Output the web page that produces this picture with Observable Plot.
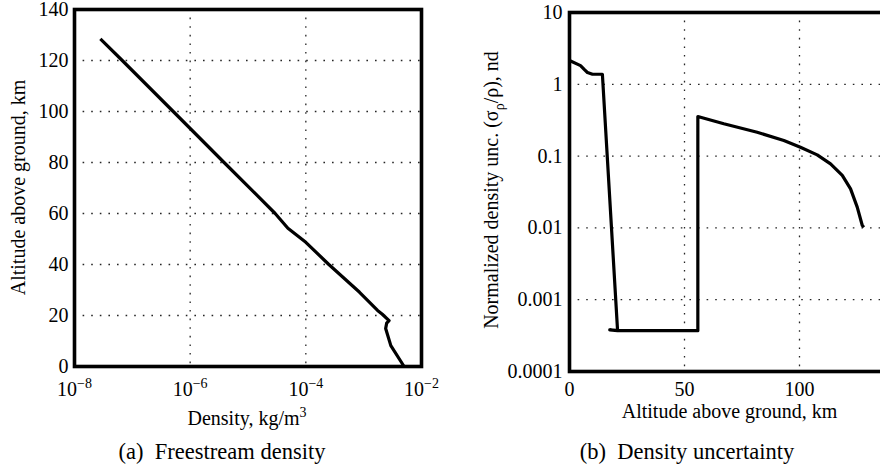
<!DOCTYPE html>
<html>
<head>
<meta charset="utf-8">
<script src="https://cdn.jsdelivr.net/npm/d3@7"></script>
<script src="https://cdn.jsdelivr.net/npm/@observablehq/plot@0.6"></script>
<style>
  html, body { margin: 0; padding: 0; background: #fff; overflow: hidden; }
  #wrap { position: relative; width: 880px; height: 475px; overflow: hidden; background: #fff; }
  .panel { position: absolute; top: 0; }
  .cap { position: absolute; font-family: "Liberation Serif", "Times New Roman", Times, "DejaVu Serif", serif; font-size: 22.5px; line-height: 22px; color: #000; white-space: pre; transform: translateX(-50%); }
</style>
</head>
<body>
<div id="wrap">
  <div id="pa" class="panel" style="left:0px;width:440px"></div>
  <div id="pb" class="panel" style="left:440px;width:480px"></div>
  <div class="cap" style="left:222px;top:441px">(a)  Freestream density</div>
  <div class="cap" style="left:687px;top:441px">(b)  Density uncertainty</div>
</div>
<script>
// ---- Data: (a) freestream density vs altitude ----
const densityAlt = [128.5, 120, 100, 80, 60, 54.2, 48.7, 40, 29.1, 22, 20.5, 18, 17, 14.9, 8.2, 0];
const densityVal = [2.8e-8, 6.7e-8, 5.1e-7, 3.86e-6, 2.95e-5, 4.9e-5, 1.0e-4, 2.5e-4, 8.5e-4, 1.74e-3, 2.1e-3, 2.75e-3, 2.5e-3, 2.4e-3, 2.95e-3, 5.0e-3];

// ---- Data: (b) normalized density uncertainty vs altitude ----
const uncAlt = [0, 4.8, 6.5, 7.8, 10, 14.3, 20.9, 17.5, 21.5, 55.8, 55.8, 67.1, 81.6, 93.2, 100.4, 107.7, 113.5, 118.6, 122.2, 125.1, 127.3, 128];
const uncVal = [2.14, 1.82, 1.6, 1.46, 1.38, 1.38, 3.7e-4, 3.8e-4, 3.7e-4, 3.7e-4, 0.356, 0.282, 0.215, 0.165, 0.133, 0.104, 0.078, 0.054, 0.035, 0.0195, 0.0108, 0.0102];

// ---- Ticks ----
const aXTicks = [1e-8, 1e-6, 1e-4, 1e-2];
const aXExp = ["\u22128", "\u22126", "\u22124", "\u22122"];
const aYTicks = [0, 20, 40, 60, 80, 100, 120, 140];
const bXTicks = [0, 50, 100];
const bYTicks = [1e-4, 1e-3, 1e-2, 1e-1, 1, 10];
const bYLabels = ["0.0001", "0.001", "0.01", "0.1", "1", "10"];

const FONT = '"Liberation Serif", "Times New Roman", Times, "DejaVu Serif", serif';
const gridStyle = {stroke: "#000", strokeOpacity: 0.85, strokeWidth: 1.3, strokeDasharray: "1.6,7"};

const dataA = densityAlt.map((a, i) => ({alt: a, rho: densityVal[i]}));
const dataB = uncAlt.map((a, i) => ({alt: a, u: uncVal[i]}));

const plotA = Plot.plot({
  width: 440, height: 430,
  marginLeft: 74, marginRight: 19, marginTop: 9, marginBottom: 64,
  style: {fontFamily: FONT, fontSize: "20px", color: "#000", background: "#fff", maxWidth: "none", overflow: "visible"},
  x: {type: "log", domain: [1e-8, 1e-2]},
  y: {domain: [0, 140]},
  marks: [
    Plot.gridX([1e-6, 1e-4], gridStyle),
    Plot.gridY([20, 40, 60, 80, 100, 120], gridStyle),
    Plot.axisX({ticks: aXTicks, tickSize: 0, tickPadding: 15, label: null,
      tickFormat: d => "10^" + aXExp[aXTicks.indexOf(d)]}),
    Plot.axisY({ticks: aYTicks, tickSize: 0, tickPadding: 6, label: null, tickFormat: d => String(d)}),
    Plot.line(dataA, {x: "rho", y: "alt", stroke: "#000", strokeWidth: 3.2, strokeLinejoin: "round", strokeLinecap: "butt"}),
    Plot.frame({stroke: "#000", strokeWidth: 3.6})
  ]
});

const plotB = Plot.plot({
  width: 480, height: 430,
  marginLeft: 129, marginRight: 29, marginTop: 12, marginBottom: 59,
  style: {fontFamily: FONT, fontSize: "20px", color: "#000", background: "#fff", maxWidth: "none", overflow: "visible"},
  x: {domain: [0, 140]},
  y: {type: "log", domain: [1e-4, 10]},
  marks: [
    Plot.gridX([50, 100], gridStyle),
    Plot.gridY([1e-3, 1e-2, 1e-1, 1], gridStyle),
    Plot.axisX({ticks: bXTicks, tickSize: 0, tickPadding: 10, label: null, tickFormat: d => String(d)}),
    Plot.axisY({ticks: bYTicks, tickSize: 0, tickPadding: 7, label: null,
      tickFormat: d => bYLabels[bYTicks.indexOf(d)]}),
    Plot.line(dataB, {x: "alt", y: "u", stroke: "#000", strokeWidth: 3.2, strokeLinejoin: "round", strokeLinecap: "butt"}),
    Plot.frame({stroke: "#000", strokeWidth: 3.6})
  ]
});

document.getElementById("pa").appendChild(plotA);
document.getElementById("pb").appendChild(plotB);

// Superscript exponents on log tick labels
for (const svg of [plotA, plotB]) {
  svg.querySelectorAll("text").forEach(t => {
    const s = t.textContent;
    if (s.includes("^")) {
      const [base, exp] = s.split("^");
      while (t.firstChild) t.removeChild(t.firstChild);
      const ns = "http://www.w3.org/2000/svg";
      const b = document.createElementNS(ns, "tspan");
      b.textContent = base;
      const e = document.createElementNS(ns, "tspan");
      e.textContent = exp;
      e.setAttribute("dy", "-0.55em");
      e.setAttribute("font-size", "14px");
      t.appendChild(b); t.appendChild(e);
    }
  });
}

// Axis titles (with super/subscripts)
const sa = d3.select(plotA);
const xa = sa.append("text").attr("x", 247).attr("y", 425).attr("text-anchor", "middle")
  .style("font-family", FONT).attr("font-size", 20).attr("fill", "#000");
xa.append("tspan").text("Density, kg/m");
xa.append("tspan").attr("dy", "-0.55em").attr("font-size", 14).text("3");

sa.append("text").attr("transform", "translate(25,187.5) rotate(-90)").attr("text-anchor", "middle")
  .style("font-family", FONT).attr("font-size", 20).attr("fill", "#000")
  .text("Altitude above ground, km");

const sb = d3.select(plotB);
sb.append("text").attr("x", 289.5).attr("y", 418).attr("text-anchor", "middle")
  .style("font-family", FONT).attr("font-size", 20).attr("fill", "#000")
  .text("Altitude above ground, km");

const yb = sb.append("text").attr("transform", "translate(58,190) rotate(-90)").attr("text-anchor", "middle")
  .style("font-family", FONT).attr("font-size", 20).attr("fill", "#000");
yb.append("tspan").text("Normalized density unc. (\u03C3");
yb.append("tspan").attr("dy", "0.4em").attr("font-size", 14).text("\u03C1");
yb.append("tspan").attr("dy", "-0.28em").text("/\u03C1), nd");
</script>
</body>
</html>
